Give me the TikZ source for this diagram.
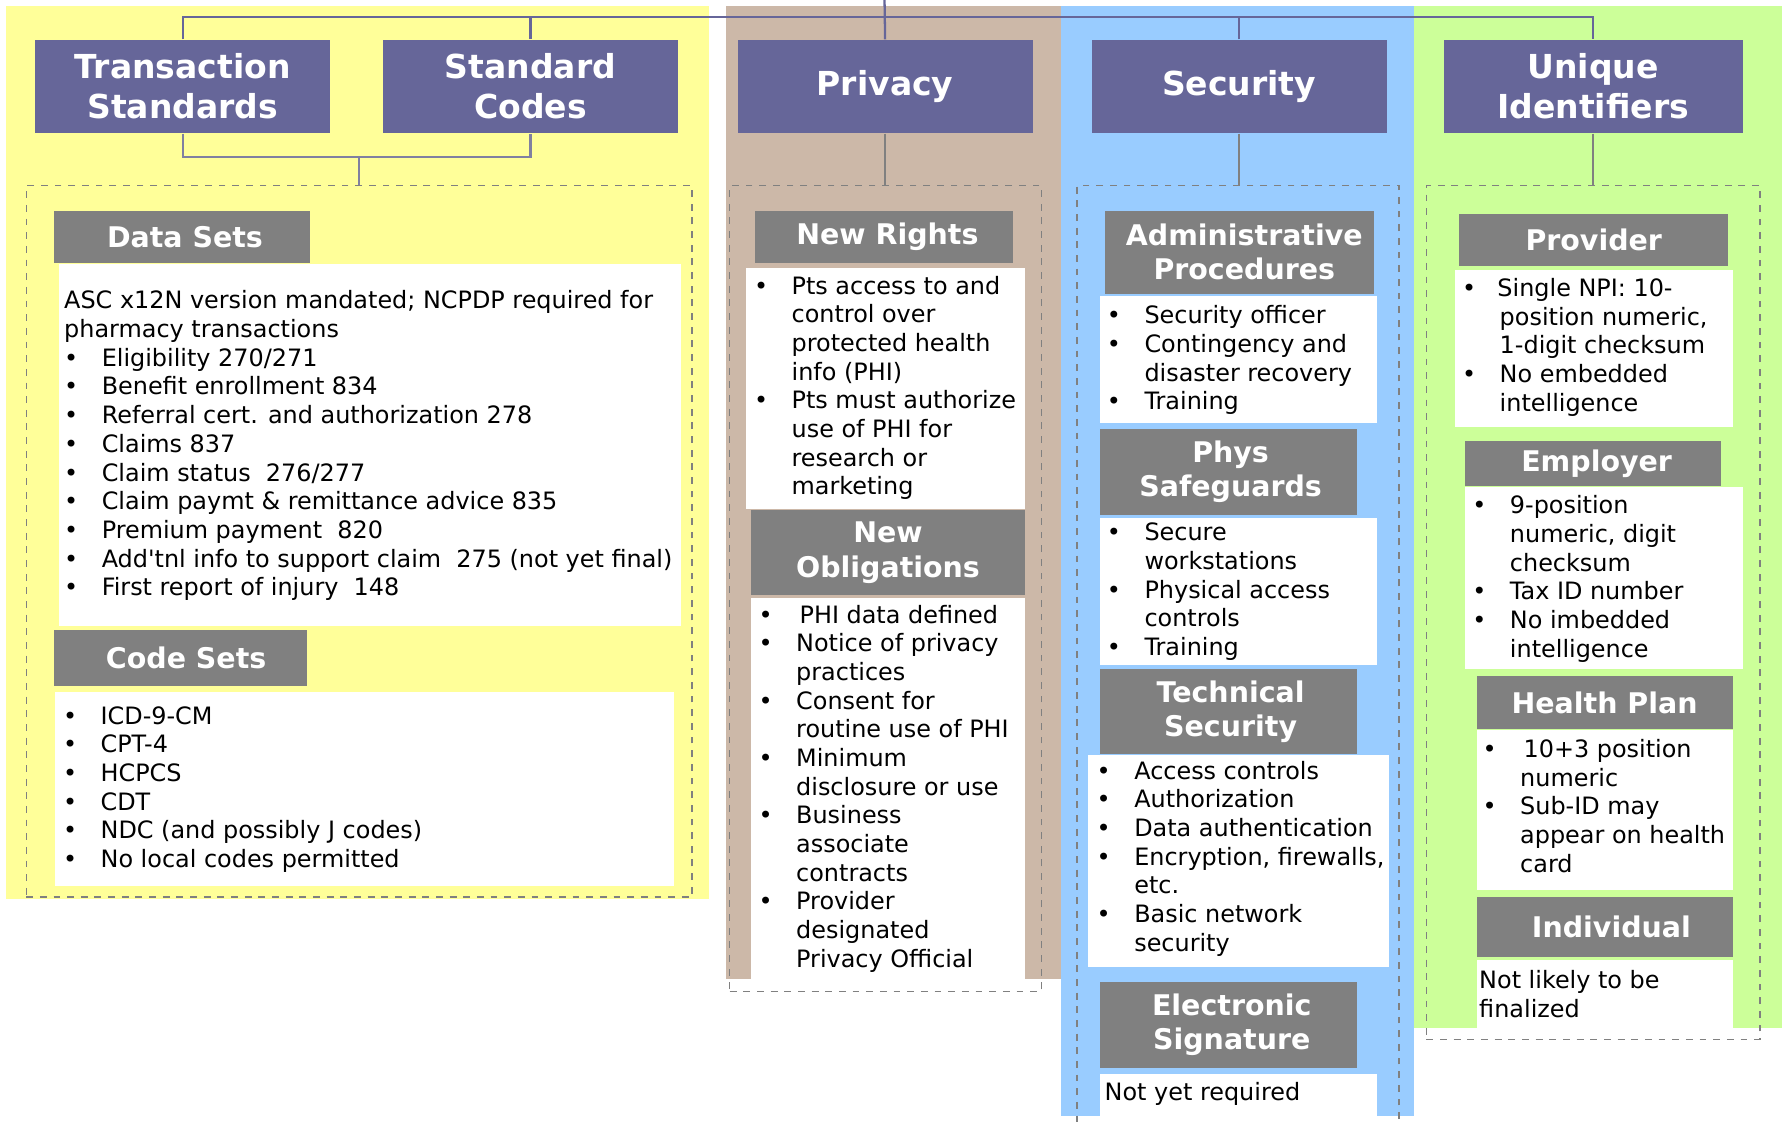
\documentclass[tikz,border=0pt]{standalone}
\usepackage{fontspec}
\setmainfont{DejaVu Sans}
\usetikzlibrary{fit}
\definecolor{hdr}{HTML}{666699}
\definecolor{sub}{HTML}{808080}
\definecolor{lnk}{HTML}{8080A0}
\definecolor{pyel}{HTML}{FFFF99}
\definecolor{ptan}{HTML}{CCB8A8}
\definecolor{pblue}{HTML}{99CCFF}
\definecolor{pgreen}{HTML}{CCFF99}
\newcommand\bodyfont{\fontsize{10.5pt}{12.6pt}\selectfont}
\newcommand\topfont{\fontsize{14.5pt}{17.5pt}\selectfont\bfseries}
\newcommand\subfont{\fontsize{12.5pt}{15pt}\selectfont\bfseries}
\newlength\bind
\setlength\bind{16.5pt}
\newcommand\bl[1]{\makebox[\bind][l]{•}#1}
\newcommand\cl[1]{\hspace*{\bind}#1}
\tikzset{
 x=0.5pt, y=-0.5pt,
 topbox/.style={fill=hdr, inner sep=0},
 toptext/.style={inner sep=0, text=white, font=\topfont, align=center},
 subbox/.style={fill=sub, inner sep=0},
 subtext/.style={inner sep=0, text=white, font=\subfont, align=center},
 wbox/.style={fill=white, inner sep=0},
 dbox/.style={draw=sub, dashed, inner sep=0, line width=0.6pt},
 conn/.style={draw=hdr, line width=1pt},
 conn2/.style={draw=lnk, line width=1pt},
 conn3/.style={draw=sub, line width=1pt},
 txt/.style={anchor=north west, inner sep=0, align=left, font=\bodyfont},
}
\begin{document}
\begin{tikzpicture}
\clip (0,0) rectangle (1568,985);
\fill[white] (0,0) rectangle (1568,985);
% panels
\fill[pyel] (5,5) rectangle (623,790);
\fill[ptan] (638,5) rectangle (932,860);
\fill[pblue] (932,5) rectangle (1242,980);
\fill[pgreen] (1242,5) rectangle (1565,903);

% top headers
\node[topbox, fit={(31,35) (290,117)}] (ts) {};
\node[topbox, fit={(336,35) (596,117)}] (sc) {};
\node[topbox, fit={(648,35) (907,117)}] (pr) {};
\node[topbox, fit={(959,35) (1218,117)}] (se) {};
\node[topbox, fit={(1268,35) (1531,117)}] (ui) {};
\node[toptext] (tsl) at (ts) {Transaction\\Standards};
\node[toptext] (scl) at (sc) {Standard\\Codes};
\node[toptext] (prl) at (pr) {Privacy};
\node[toptext] (sel) at (se) {Security};
\node[toptext] (uil) at (ui) {Unique\\Identifiers};

% dashed groups
\node[dbox, fit={(23,163) (608,788)}] (d1) {};
\node[dbox, fit={(641,163) (915,871)}] (d2) {};
\node[dbox, fit={(946,163) (1229,1000)}] (d3) {};
\node[dbox, fit={(1253,163) (1546,913)}] (d4) {};

% connectors
\coordinate (top) at (777,0);
\draw[conn] (top) -- (pr.north);
\draw[conn] (ts.north) -- (ts.north |- 0,15) -- (ui.north |- 0,15) -- (ui.north);
\draw[conn] (sc.north) -- (sc.north |- 0,15);
\draw[conn] (se.north) -- (se.north |- 0,15);
\draw[conn2] (ts.south) -- (ts.south |- 0,138) -- (sc.south |- 0,138) -- (sc.south);
\draw[conn2] (d1.north |- 0,138) -- (d1.north);
\draw[conn3] (pr.south) -- (pr.south |- d2.north);
\draw[conn3] (se.south) -- (se.south |- d3.north);
\draw[conn3] (ui.south) -- (ui.south |- d4.north);

% column 1
\node[subbox, fit={(47,185) (272,231)}] (ds) {};
\node[subtext] (dsl) at ([xshift=1.5pt]ds.center) {Data Sets};
\node[wbox, fit={(52,232) (598,550)}] (dsw) {};
\node[subbox, fit={(47,553) (270,603)}] (cs) {};
\node[subtext] (csl) at ([xshift=2.5pt]cs.center) {Code Sets};
\node[wbox, fit={(48,608) (592,778)}] (csw) {};
\node[txt] (dst) at (56,255) {ASC x12N version mandated; NCPDP required for\\
pharmacy transactions\\
\bl{Eligibility 270/271}\\
\bl{Benefit enrollment 834}\\
\bl{Referral cert. and authorization 278}\\
\bl{Claims 837}\\
\bl{Claim status ~276/277}\\
\bl{Claim paymt \& remittance advice 835}\\
\bl{Premium payment ~820}\\
\bl{Add\textquotesingle tnl info to support claim ~275 (not yet final)}\\
\bl{First report of injury ~148}};
\node[txt] (cst) at (55,620) {\bl{ICD-9-CM}\\
\bl{CPT-4}\\
\bl{HCPCS}\\
\bl{CDT}\\
\bl{NDC (and possibly J codes)}\\
\bl{No local codes permitted}};

% column 2
\node[subbox, fit={(663,185) (890,231)}] (nr) {};
\node[subtext] (nrl) at ([xshift=1.5pt]nr.center) {New Rights};
\node[wbox, fit={(655,235) (900,447)}] (nrw) {};
\node[subbox, fit={(660,448) (900,523)}] (no) {};
\node[subtext] (nol) at (no) {New\\Obligations};
\node[wbox, fit={(660,525) (900,860)}] (now) {};
\node[txt] (nrt) at (662,242) {\setlength\bind{16.5pt}\bl{Pts access to and}\\
\cl{control over}\\
\cl{protected health}\\
\cl{info (PHI)}\\
\bl{Pts must authorize}\\
\cl{use of PHI for}\\
\cl{research or}\\
\cl{marketing}};
\node[txt] (nott) at (666,531) {\setlength\bind{18pt}\bl{PHI data defined}\\
\bl{Notice of privacy}\\
\cl{practices}\\
\bl{Consent for}\\
\cl{routine use of PHI}\\
\bl{Minimum}\\
\cl{disclosure or use}\\
\bl{Business}\\
\cl{associate}\\
\cl{contracts}\\
\bl{Provider}\\
\cl{designated}\\
\cl{Privacy Official}};

% column 3
\node[subbox, fit={(971,185) (1207,258)}] (ap) {};
\node[subtext] (apl) at ([xshift=2pt]ap.center) {Administrative\\Procedures};
\node[wbox, fit={(966,260) (1210,372)}] (apw) {};
\node[subbox, fit={(966,377) (1192,452)}] (ps) {};
\node[subtext] (psl) at ([xshift=1pt]ps.center) {Phys\\Safeguards};
\node[wbox, fit={(966,455) (1210,584)}] (psw) {};
\node[subbox, fit={(966,588) (1192,662)}] (tsec) {};
\node[subtext] (tsecl) at ([xshift=1pt]tsec.center) {Technical\\Security};
\node[wbox, fit={(956,663) (1220,849)}] (tsw) {};
\node[subbox, fit={(966,863) (1192,938)}] (es) {};
\node[subtext] (esl) at ([xshift=1.5pt]es.center) {Electronic\\Signature};
\node[wbox, fit={(966,943) (1210,990)}] (esw) {};
\node[txt] (apt) at (972,268) {\bl{Security officer}\\
\bl{Contingency and}\\
\cl{disaster recovery}\\
\bl{Training}};
\node[txt] (pst) at (972,459) {\bl{Secure}\\
\cl{workstations}\\
\bl{Physical access}\\
\cl{controls}\\
\bl{Training}};
\node[txt] (tst) at (963,668) {\setlength\bind{16.5pt}\bl{Access controls}\\
\bl{Authorization}\\
\bl{Data authentication}\\
\bl{Encryption, firewalls,}\\
\cl{etc.}\\
\bl{Basic network}\\
\cl{security}};
\node[txt] (est) at (970,950) {Not yet required};

% column 4
\node[subbox, fit={(1282,188) (1518,234)}] (pv) {};
\node[subtext] (pvl) at (pv) {Provider};
\node[wbox, fit={(1278,237) (1522,375)}] (pvw) {};
\node[subbox, fit={(1287,387) (1512,427)}] (em) {};
\node[subtext] (eml) at ([xshift=1.5pt]em.center) {Employer};
\node[wbox, fit={(1287,428) (1531,588)}] (emw) {};
\node[subbox, fit={(1297,594) (1522,640)}] (hp) {};
\node[subtext] (hpl) at (hp) {Health Plan};
\node[wbox, fit={(1297,641) (1522,782)}] (hpw) {};
\node[subbox, fit={(1297,788) (1522,841)}] (indv) {};
\node[subtext] (indvl) at ([xshift=3pt]indv.center) {Individual};
\node[wbox, fit={(1297,843) (1522,903)}] (indw) {};
\node[txt] (pvt) at (1284,244) {\setlength\bind{15.5pt}\bl{Single NPI: 10-}\\
\cl{position numeric,}\\
\cl{1-digit checksum}\\
\bl{No embedded}\\
\cl{intelligence}};
\node[txt] (emt) at (1293,435) {\setlength\bind{16.5pt}\bl{9-position}\\
\cl{numeric, digit}\\
\cl{checksum}\\
\bl{Tax ID number}\\
\bl{No imbedded}\\
\cl{intelligence}};
\node[txt] (hpt) at (1302,649) {\setlength\bind{18pt}\bl{10+3 position}\\
\cl{numeric}\\
\bl{Sub-ID may}\\
\cl{appear on health}\\
\cl{card}};
\node[txt] (indt) at (1299,852) {Not likely to be\\finalized};
\end{tikzpicture}
\end{document}
